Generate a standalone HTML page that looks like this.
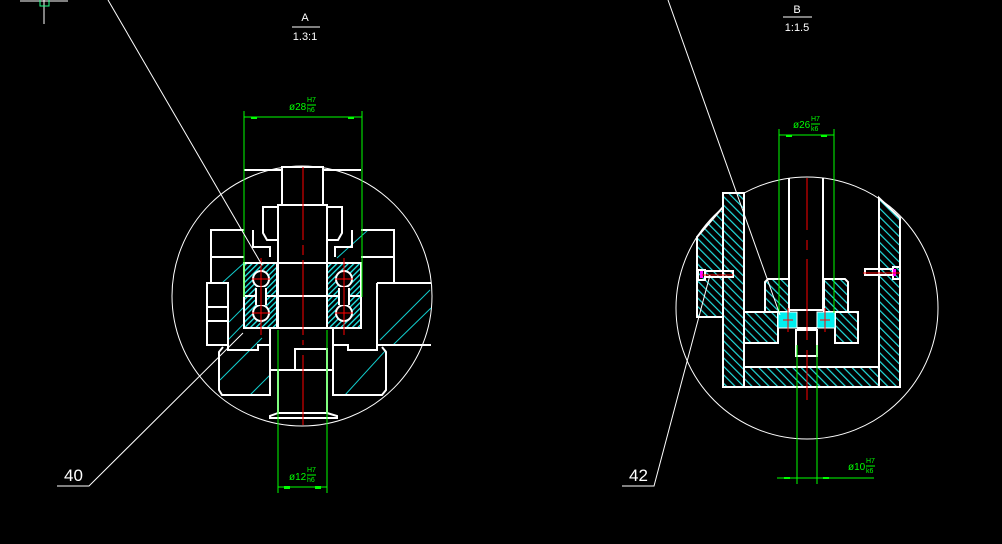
<!DOCTYPE html>
<html><head><meta charset="utf-8"><style>
html,body{margin:0;padding:0;background:#000;}
svg{display:block;}
text{font-family:"Liberation Sans Narrow","Liberation Sans",sans-serif;}
</style></head><body>
<svg width="1002" height="544" viewBox="0 0 1002 544" xmlns="http://www.w3.org/2000/svg">
<defs>
<pattern id="h" patternUnits="userSpaceOnUse" width="4" height="4" patternTransform="rotate(45)">
<rect width="4" height="4" fill="#000"/><rect x="0" y="0" width="1.3" height="4" fill="#2ee"/>
</pattern>
<pattern id="hr" patternUnits="userSpaceOnUse" width="6" height="6" patternTransform="rotate(-45)">
<rect width="6" height="6" fill="#000"/><rect x="0" y="0" width="1.2" height="6" fill="#2dd"/>
</pattern>
</defs>
<rect width="1002" height="544" fill="#000"/>

<g stroke="#fff" stroke-width="1">
<line x1="20" y1="1" x2="68" y2="1"/><line x1="44" y1="0" x2="44" y2="24"/>
</g>
<rect x="40" y="-2" width="9" height="8" fill="none" stroke="#2f8" stroke-width="1"/>

<g fill="#fff" font-size="11" text-anchor="middle">
<text x="305" y="21">A</text>
<text x="305" y="40">1.3:1</text>
<text x="797" y="13">B</text>
<text x="797" y="31">1:1.5</text>
</g>
<line x1="292" y1="27" x2="320" y2="27" stroke="#fff"/>
<line x1="783" y1="17" x2="812" y2="17" stroke="#fff"/>

<!-- LEFT VIEW -->
<circle cx="302" cy="296" r="130" fill="none" stroke="#fff" stroke-width="1"/>
<g fill="none" stroke="#1cc" stroke-width="1">
<line x1="228" y1="340" x2="262" y2="305"/><line x1="220" y1="380" x2="262" y2="338"/>
<line x1="250" y1="395" x2="270" y2="375"/><line x1="380" y1="340" x2="430" y2="290"/>
<line x1="393" y1="345" x2="431" y2="308"/><line x1="345" y1="395" x2="386" y2="350"/>
<line x1="222" y1="283" x2="244" y2="263"/><line x1="337" y1="258" x2="368" y2="230"/>
<line x1="229" y1="322" x2="244" y2="307"/>
</g>
<g fill="url(#h)" stroke="#fff" stroke-width="2">
<rect x="244" y="263" width="33" height="33"/><rect x="244" y="296" width="33" height="32"/>
<rect x="327" y="263" width="34" height="33"/><rect x="327" y="296" width="34" height="32"/>
</g>
<g fill="#000" stroke="#fff" stroke-width="2">
<circle cx="261" cy="279" r="8"/><circle cx="261" cy="313" r="8"/>
<circle cx="344" cy="279" r="8"/><circle cx="344" cy="313" r="8"/>
<rect x="256" y="287" width="10" height="18" stroke="none"/>
<rect x="339" y="287" width="10" height="18" stroke="none"/>
</g>
<g fill="none" stroke="#fff" stroke-width="2">
<line x1="256" y1="288" x2="256" y2="305"/><line x1="266" y1="288" x2="266" y2="305"/>
<line x1="339" y1="288" x2="339" y2="305"/><line x1="349" y1="288" x2="349" y2="305"/>
<rect x="282" y="167" width="41" height="38"/>
<rect x="278" y="205" width="49" height="123"/>
<line x1="278" y1="263" x2="327" y2="263"/><line x1="278" y1="296" x2="327" y2="296"/>
<path d="M278 207 H263 V233 L267 240 H278"/>
<path d="M327 207 H342 V233 L338 240 H327"/>
<path d="M244 230 H211 V283"/><line x1="211" y1="257" x2="244" y2="257"/>
<path d="M253 230 V247 H270 V257"/><path d="M352 230 V247 H335 V257"/>
<path d="M361 230 H394 V283"/><line x1="361" y1="257" x2="394" y2="257"/>
<path d="M244 170 H282"/><path d="M323 170 H361"/>
<rect x="207" y="283" width="21" height="62"/>
<line x1="207" y1="307" x2="228" y2="307"/><line x1="207" y1="321" x2="228" y2="321"/>
<path d="M377 283 H431 M377 283 V345 H431"/>
<path d="M228 345 V350 H258 V345 H270"/>
<path d="M270 328 V395 H222 L219 390 V352 L223 347"/>
<path d="M333 328 V395 H382 L386 390 V352 L382 347"/>
<path d="M377 345 V350 H348 V345 H333"/>
<line x1="270" y1="370" x2="333" y2="370"/>
<rect x="295" y="349" width="32" height="21"/>
<path d="M278 370 V413 H327 V370"/>
<path d="M278 413 L270 416 V418 H337 V416 L327 413"/>
</g>
<g stroke="#f00" stroke-width="1">
<line x1="303" y1="167" x2="303" y2="240" /><line x1="303" y1="245" x2="303" y2="255"/>
<line x1="303" y1="260" x2="303" y2="335"/><line x1="303" y1="340" x2="303" y2="345"/>
<line x1="303" y1="355" x2="303" y2="425"/>
<line x1="261" y1="258" x2="261" y2="335"/><line x1="344" y1="258" x2="344" y2="335"/>
<line x1="252" y1="279" x2="270" y2="279"/><line x1="252" y1="313" x2="270" y2="313"/>
<line x1="335" y1="279" x2="353" y2="279"/><line x1="335" y1="313" x2="353" y2="313"/>
</g>
<g stroke="#0f0" stroke-width="1" fill="none">
<line x1="244" y1="111" x2="244" y2="297"/><line x1="362" y1="111" x2="362" y2="297"/>
<line x1="244" y1="117" x2="362" y2="117"/>
<line x1="278" y1="330" x2="278" y2="493"/><line x1="327" y1="330" x2="327" y2="493"/>
<line x1="278" y1="487" x2="327" y2="487"/>
</g>
<g fill="#0f0">
<rect x="251" y="117" width="6" height="2"/><rect x="348" y="117" width="6" height="2"/>
<rect x="284" y="486" width="6" height="3"/><rect x="315" y="486" width="6" height="3"/>
</g>
<g fill="#0f0" font-size="10">
<text x="289" y="110">ø28</text><text x="307" y="102" font-size="7">H7</text><text x="307" y="112" font-size="7">h6</text>
<text x="289" y="480">ø12</text><text x="307" y="472" font-size="7">H7</text><text x="307" y="482" font-size="7">h6</text>
</g>
<line x1="307" y1="105" x2="316" y2="105" stroke="#0f0"/>
<line x1="307" y1="475" x2="316" y2="475" stroke="#0f0"/>
<g stroke="#fff" stroke-width="1" fill="none">
<line x1="108" y1="0" x2="262" y2="265"/>
<path d="M57 486 H89 L243 333"/>
</g>
<text x="64" y="481" fill="#fff" font-size="17">40</text>

<!-- RIGHT VIEW -->
<circle cx="807" cy="308" r="131" fill="none" stroke="#fff" stroke-width="1"/>
<g fill="url(#hr)" stroke="#fff" stroke-width="2">
<rect x="723" y="193" width="21" height="194"/>
<path d="M697 237 L723 207 V317 H697 Z"/>
<path d="M879 198 L900 218 V387 H879 Z"/>
<rect x="744" y="367" width="135" height="20"/>
<rect x="744" y="312" width="34" height="31"/><rect x="835" y="312" width="23" height="31"/>
<path d="M765 282 L768 279 H789 V312 H765 Z"/><path d="M824 279 H845 L848 282 V312 H824 Z"/>
</g>
<rect x="778" y="312" width="19" height="16" fill="#0ee" stroke="#fff" stroke-width="1"/>
<rect x="817" y="312" width="18" height="16" fill="#0ee" stroke="#fff" stroke-width="1"/>
<g fill="none" stroke="#fff" stroke-width="2">
<path d="M789 178 V310 M823 178 V310"/>
<line x1="789" y1="310" x2="823" y2="310"/>
<path d="M778 343 H744"/><line x1="797" y1="328" x2="817" y2="328"/>
<rect x="796" y="330" width="21" height="26"/>
<rect x="698" y="270" width="7" height="10"/><rect x="705" y="271" width="28" height="6"/>
<rect x="893" y="267" width="7" height="12"/><rect x="865" y="269" width="28" height="6"/>
</g>
<rect x="700" y="271" width="3" height="7" fill="#f0f"/><rect x="893" y="269" width="3" height="7" fill="#f0f"/>
<g stroke="#f00" stroke-width="1">
<line x1="807" y1="178" x2="807" y2="230"/><line x1="807" y1="240" x2="807" y2="250"/>
<line x1="807" y1="259" x2="807" y2="340"/><line x1="807" y1="350" x2="807" y2="400"/>
<line x1="702" y1="275" x2="733" y2="275"/><line x1="863" y1="273" x2="900" y2="273"/>
<line x1="788" y1="308" x2="788" y2="332"/><line x1="825" y1="308" x2="825" y2="332"/>
<line x1="783" y1="320" x2="793" y2="320"/><line x1="820" y1="320" x2="830" y2="320"/>
</g>
<g stroke="#0f0" stroke-width="1" fill="none">
<line x1="779" y1="129" x2="779" y2="313"/><line x1="834" y1="129" x2="834" y2="313"/>
<line x1="779" y1="135" x2="834" y2="135"/>
<line x1="797" y1="345" x2="797" y2="484"/><line x1="817" y1="345" x2="817" y2="484"/>
<line x1="777" y1="478" x2="874" y2="478"/>
</g>
<g fill="#0f0">
<rect x="786" y="135" width="6" height="2"/><rect x="821" y="135" width="6" height="2"/>
<rect x="784" y="477" width="6" height="2"/><rect x="823" y="477" width="6" height="2"/>
</g>
<g fill="#0f0" font-size="10">
<text x="793" y="128">ø26</text><text x="811" y="121" font-size="7">H7</text><text x="811" y="131" font-size="7">k6</text>
<text x="848" y="470">ø10</text><text x="866" y="463" font-size="7">H7</text><text x="866" y="473" font-size="7">k6</text>
</g>
<line x1="811" y1="124" x2="820" y2="124" stroke="#0f0"/>
<line x1="866" y1="466" x2="875" y2="466" stroke="#0f0"/>
<g stroke="#fff" stroke-width="1" fill="none">
<line x1="668" y1="0" x2="780" y2="315"/>
<path d="M622 486 H654 L710 275"/>
</g>
<text x="629" y="481" fill="#fff" font-size="17">42</text>
</svg>
</body></html>
